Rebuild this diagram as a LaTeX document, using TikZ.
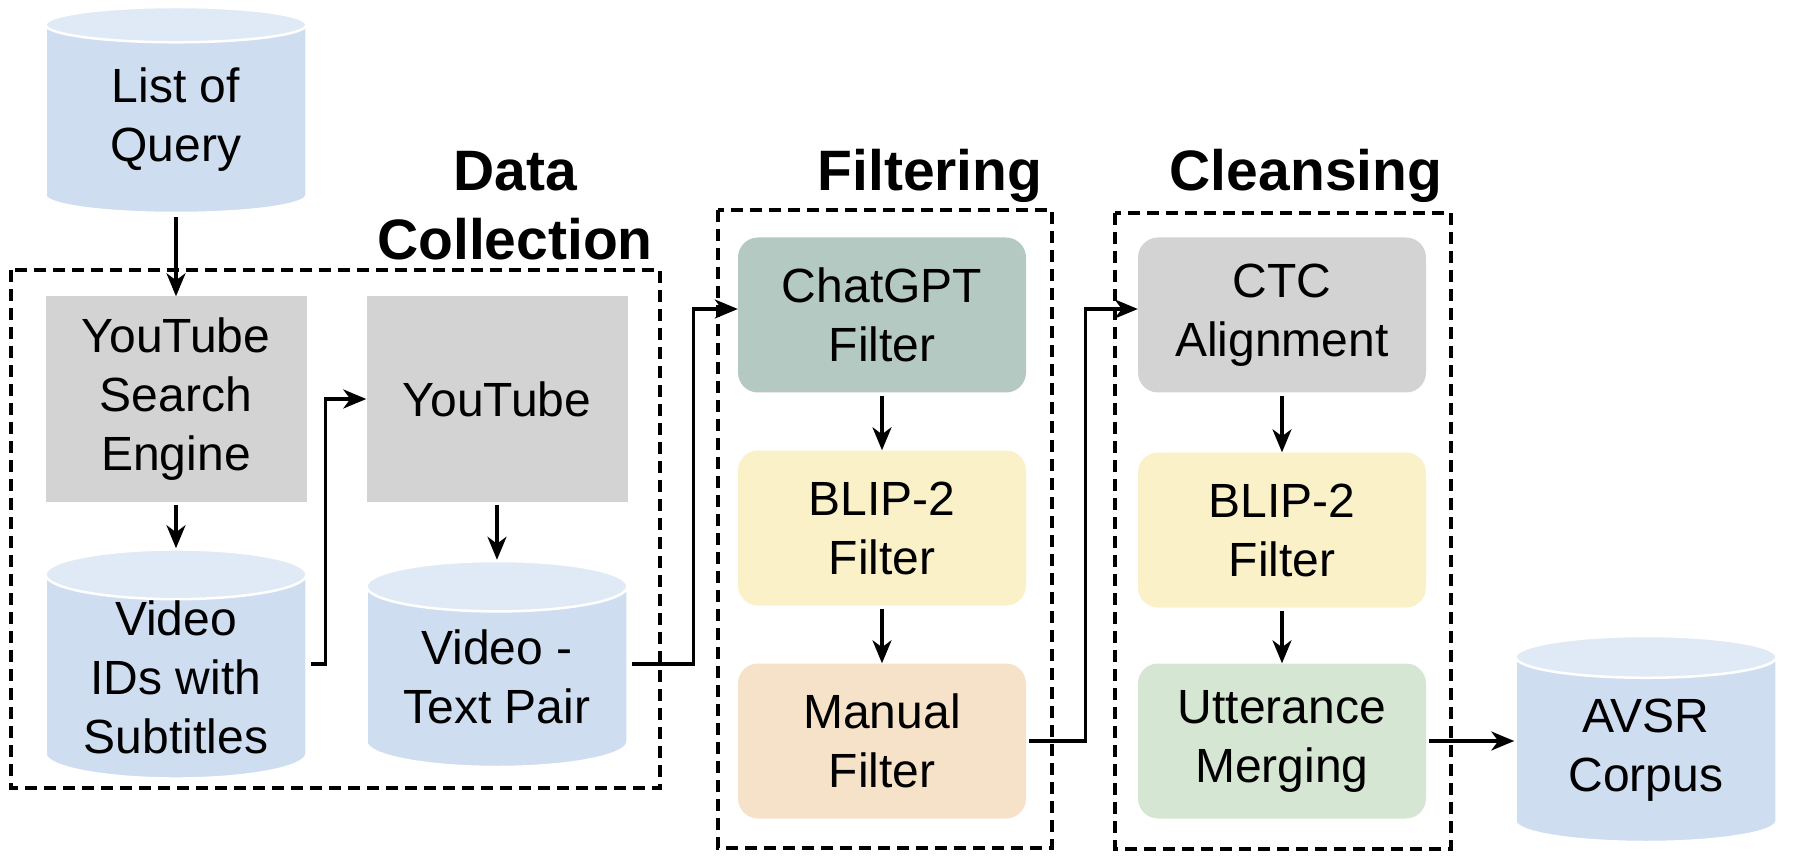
\documentclass[tikz,border=0pt]{standalone}
\usepackage{fontspec}
\setmainfont{Liberation Sans}
\usetikzlibrary{arrows.meta, shapes.geometric}

\definecolor{dbblau}{RGB}{206,221,240}
\definecolor{dbdeckel}{RGB}{224,234,246}
\definecolor{grau}{RGB}{211,211,211}
\definecolor{chatgruen}{RGB}{180,201,194}
\definecolor{blipgelb}{RGB}{250,241,200}
\definecolor{manuell}{RGB}{246,226,200}
\definecolor{hellgruen}{RGB}{213,231,211}

\begin{document}
\begin{tikzpicture}[x=1pt, y=-1pt,
		>={Stealth[length=23pt, width=19pt, inset=7pt]},   %Pfeilspitzen
		font=\fontsize{48}{59}\selectfont,
		db/.style={cylinder, shape border rotate=90, aspect=0.27, draw=white, line width=2.5pt,
			cylinder uses custom fill, cylinder body fill=dbblau, cylinder end fill=dbdeckel,
			minimum width=261pt, minimum height=206pt, align=center, inner sep=0pt, anchor=shape center},
		block/.style={fill=grau, minimum width=261pt, minimum height=205pt, align=center, inner sep=0pt},
		stufe/.style={fill=#1, rounded corners=20pt, minimum width=288pt, minimum height=155pt, align=center, inner sep=0pt},
		gruppe/.style={dash pattern=on 12pt off 7pt, line width=3.3pt},
		titel/.style={font=\fontsize{57}{69}\selectfont\bfseries, align=center, anchor=base},
		pfeil/.style={->, line width=3.2pt, shorten <=3pt}]
		% Bildbereich
		\useasboundingbox (0,0) rectangle (1794,866);
		% Data Collection
		\node[db] (liste) at (176,110) {List of\\Query};
		\node[block] (suche) at (176,399) {YouTube\\Search\\Engine};
		\node[block] (yt) at (497,399) {YouTube};
		\node[db] (ids) at (176,664) {Video\\IDs with\\Subtitles};
		\node[db] (paare) at (497,664) {Video -\\Text Pair};
		% Filtering
		\node[stufe=chatgruen] (chat) at (882,315) {ChatGPT\\Filter};
		\node[stufe=blipgelb] (blipa) at (882,528) {BLIP-2\\Filter};
		\node[stufe=manuell] (manuell) at (882,741) {Manual\\Filter};
		% Cleansing
		\node[stufe=grau] (ctc) at (1282,315) {CTC\\Alignment};
		\node[stufe=blipgelb] (blipb) at (1282,530) {BLIP-2\\Filter};
		\node[stufe=hellgruen] (merge) at (1282,741) {Utterance\\Merging};
		\node[db] (avsr) at (1646,739) {AVSR\\Corpus};
		% Gruppen und Titel
		\draw[gruppe] (11,270) rectangle (660,788);
		\draw[gruppe] (718,210) rectangle (1052,848);
		\draw[gruppe] (1115,213) rectangle (1451,849);
		\node[titel] (tdaten) at (515,260) {Data\\Collection};
		\node[titel] (tfilter) at (930,191) {Filtering};
		\node[titel] (tclean) at (1306,191) {Cleansing};
		% Pfeile
		\draw[pfeil] (liste) -- (suche);
		\draw[pfeil] (suche) -- (ids);
		\draw[pfeil] (yt) -- (paare);
		\draw[pfeil] (ids.east |- ids.shape center) -- ++(18,0) |- (yt.west);
		\draw[pfeil] (paare.east |- paare.shape center) -- ++(65,0) |- ([yshift=6pt]chat.west);
		\draw[pfeil] (chat) -- (blipa);
		\draw[pfeil] (blipa) -- (manuell);
		\draw[pfeil] (manuell.east) -- ++(59,0) |- ([yshift=6pt]ctc.west);
		\draw[pfeil] (ctc) -- (blipb);
		\draw[pfeil] (blipb) -- (merge);
		\draw[pfeil] (merge) -- (merge -| avsr.west);
	\end{tikzpicture}
\end{document}
